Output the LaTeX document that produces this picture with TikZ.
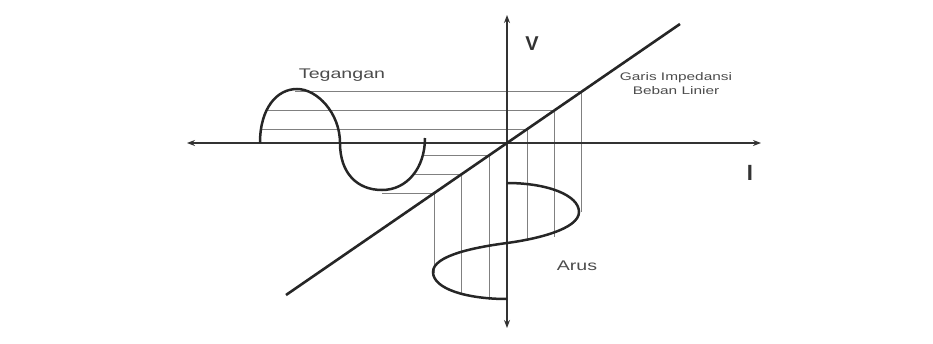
\documentclass[tikz,border=0pt]{standalone}
\usepackage{fontspec}
\newfontfamily\lblfont{Liberation Sans}[FakeStretch=1.4]
\newfontfamily\axfont{Liberation Sans}
\usetikzlibrary{arrows.meta}

\begin{document}
\begin{tikzpicture}[
  x=1pt, y=1pt,
  Axis/.style={draw=black!80, line width=1.3pt,
               {Stealth[length=8pt,width=6pt]}-{Stealth[length=8pt,width=6pt]}},
  Wave/.style={draw=black!85, line width=2.5pt},
  Load/.style={draw=black!85, line width=2.6pt},
  Proj/.style={draw=black!50, line width=0.6pt},
  Lbl/.style={font=\lblfont\fontsize{14}{16}\selectfont, text=black!70, inner sep=0pt},
  SmallLbl/.style={font=\lblfont\fontsize{11}{13}\selectfont, text=black!70, inner sep=0pt},
  AxLbl/.style={text=black!80, inner sep=0pt},
  ]
\useasboundingbox (-507,-200) rectangle (426,143);

\coordinate (O) at (0,0);
\coordinate (iL) at (-320,0);
\coordinate (iR) at (254,0);
\coordinate (vT) at (0,128);
\coordinate (vB) at (0,-185);
\coordinate (zL) at (-221,-152);
\coordinate (zR) at (173,119);

% projection lines
\draw [Proj] (-212,52) -- (74,52) -- (74,-69);
\draw [Proj] (-242,33) -- (47,33) -- (47,-94);
\draw [Proj] (-246,14) -- (20,14) -- (20,-98);
\draw [Proj] (-85,-12) -- (-18,-12) -- (-18,-157);
\draw [Proj] (-92,-31) -- (-46,-31) -- (-46,-152);
\draw [Proj] (-125,-50) -- (-73,-50) -- (-73,-130);

\draw [Axis] (iL) -- (iR);
\draw [Axis] (vT) -- (vB);
\draw [Load] (zL) -- (zR);

% tegangan
\draw [Wave] (-247,0) .. controls (-247,35) and (-230,54) .. (-210,54)
                      .. controls (-190,54) and (-167,30) .. (-167,0)
                      .. controls (-167,-30) and (-150,-47) .. (-125,-47)
                      .. controls (-100,-47) and (-82,-25) .. (-82,5);
% arus
\draw [Wave] (0,-40) .. controls (40,-40) and (72,-52) .. (72,-69)
                     .. controls (72,-86) and (30,-96) .. (0,-100)
                     .. controls (-30,-104) and (-74,-112) .. (-74,-129)
                     .. controls (-74,-146) and (-40,-156) .. (0,-156);

\node [AxLbl, font=\axfont\bfseries\fontsize{20}{22}\selectfont] (v) at (25,99) {V};
\node [AxLbl, font=\axfont\bfseries\fontsize{22}{24}\selectfont] (i) at (243,-30) {I};
\node [Lbl] (teg) at (-165,68) {Tegangan};
\node [SmallLbl] (garis) at (169,65) {Garis Impedansi};
\node [SmallLbl] (beban) at (169,52) {Beban Linier};
\node [Lbl] (arus) at (70,-123) {Arus};
\end{tikzpicture}
\end{document}
